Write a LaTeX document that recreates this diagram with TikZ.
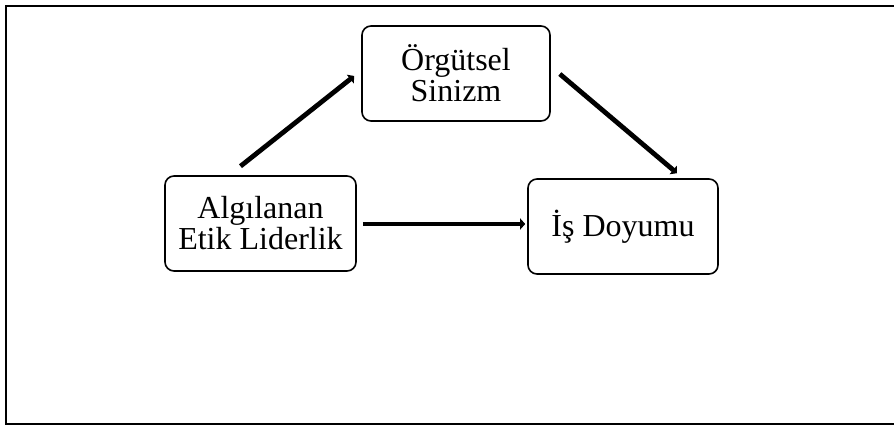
\documentclass[tikz,border=0pt]{standalone}
\usepackage{fontspec}
\setmainfont{Liberation Serif}
\usetikzlibrary{arrows.meta}
\tikzset{
  box/.style={draw, line width=1.6pt, rounded corners=9pt, align=center,
    inner sep=0pt, font=\fontsize{32}{31}\selectfont},
  flow/.style={line width=4.8pt, -{Triangle[length=5pt,width=11pt]}},
}
\begin{document}
\begin{tikzpicture}[x=1pt,y=-1pt]
\useasboundingbox (0,0) rectangle (894,428);
\begin{scope}
\clip (0,0) rectangle (894,428);
\draw[line width=2pt] (6,6) rectangle (905,424);
\end{scope}
\node[box, minimum width=188pt, minimum height=95pt] (org) at (456,73.5) {Örgütsel\\Sinizm};
\node[box, minimum width=191pt, minimum height=95pt] (alg) at (260.5,223.5) {Algılanan\\Etik Liderlik};
\node[box, minimum width=190pt, minimum height=95pt] (is) at (623,226.5) {İş Doyumu};
\draw[flow] ([shift={(-20pt,9pt)}]alg.north) -- ([shift={(-7pt,-2.5pt)}]org.west);
\draw[flow] ([shift={(9pt,-0.5pt)}]org.east) -- ([shift={(54pt,5pt)}]is.north);
\draw[flow] ([shift={(6pt,-0.5pt)}]alg.east) -- ([shift={(-2pt,2.5pt)}]is.west);
\end{tikzpicture}
\end{document}
